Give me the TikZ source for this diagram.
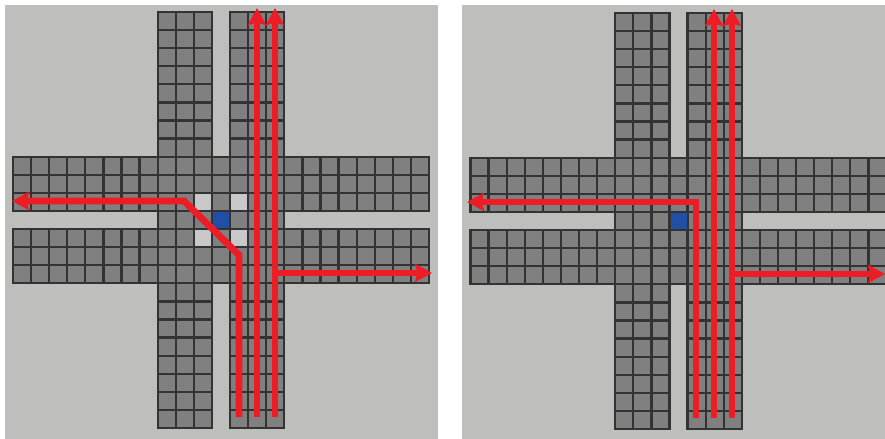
\documentclass[tikz,border=0pt]{standalone}
\usepackage{xcolor}
\usetikzlibrary{arrows.meta}
\definecolor{panelgray}{HTML}{BEBEBC}
\definecolor{cellgray}{HTML}{808080}
\definecolor{cellline}{HTML}{333333}
\definecolor{cellfree}{HTML}{C8C8C8}
\definecolor{nodeblue}{HTML}{2050A6}
\definecolor{routered}{HTML}{EE1C25}
\tikzset{
  road/.style={fill=cellgray,draw=cellline,line width=.045cm,step=1},
  route/.style={draw=routered,line width=.135cm,miter limit=10,-{Stealth[width=.36cm,length=.34cm,inset=.05cm]}},
  freecell/.style={fill=cellfree},
  hubcell/.style={fill=nodeblue,draw=cellline,line width=.3pt}
}
\begin{document}
\begin{tikzpicture}[x=.02cm,y=-.02cm]
\useasboundingbox (0,0) rectangle (885,439);
\fill[white] (0,0) rectangle (885,439);
\fill[panelgray] (5,5) rectangle (437.5,439);
\fill[panelgray] (462,5) rectangle (885,439);
% left panel
\begin{scope}[shift={(13,12)},x=.3618cm,y=.3618cm,yscale=-1]
\foreach \xa/\ya/\xb/\yb in {8/0/11/23,12/0/15/23,0/8/23/11,0/12/23/15,11/8/12/15,8/11/15/12}
  \path[road] (\xa,\ya) rectangle (\xb,\yb) (\xa,\ya) grid (\xb,\yb);
\foreach \cx/\cy in {10/10,12/10,10/12,12/12}
  \fill[freecell] (\cx+.07,\cy+.07) rectangle (\cx+.93,\cy+.93);
\fill[hubcell] (11.03,11.03) rectangle (11.97,11.97);
\end{scope}
\path[route] (239,417)--(239,255)--(184,201)--(12,201);
\path[route] (257,417)--(257,8);
\path[route] (275,417)--(275,8);
\path[route] (275,273)--(432,273);
% right panel
\begin{scope}[shift={(470.5,13)},x=.3618cm,y=.3618cm,yscale=-1]
\clip (-1,-1) rectangle (22.92,24);
\foreach \xa/\ya/\xb/\yb in {8/0/11/23,12/0/15/23,0/8/23/11,0/12/23/15,11/8/12/15,8/11/15/12}
  \path[road] (\xa,\ya) rectangle (\xb,\yb) (\xa,\ya) grid (\xb,\yb);
\fill[hubcell] (11.03,11.03) rectangle (11.97,11.97);
\end{scope}
\path[route] (696,418)--(696,202)--(467,202);
\path[route] (714,418)--(714,9);
\path[route] (732,418)--(732,9);
\path[route] (732,274)--(885,274);
\end{tikzpicture}
\end{document}
